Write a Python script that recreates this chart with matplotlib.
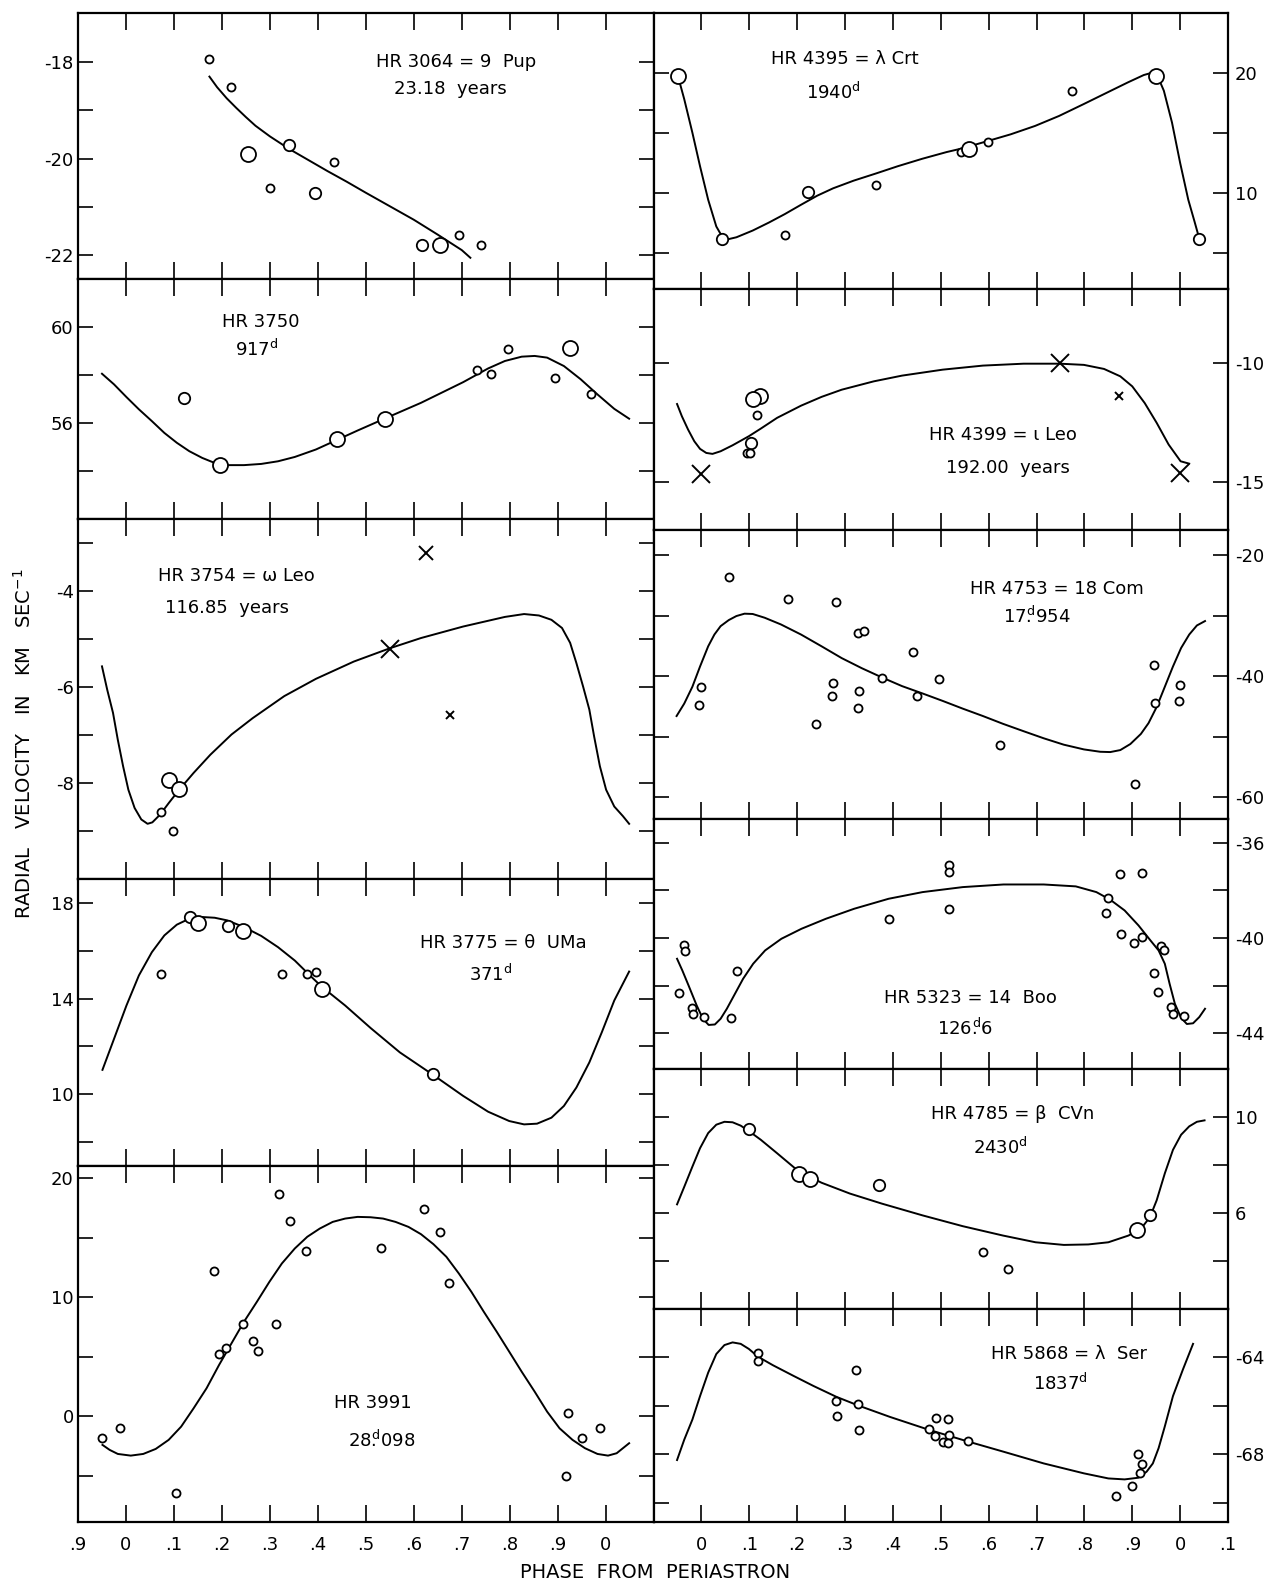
import matplotlib
matplotlib.use('Agg')
from matplotlib import pyplot as plt

# HR 3064 = 9 Pup
l1_phase = [0.174, 0.218, 0.255, 0.339, 0.300, 0.395, 0.433, 0.618, 0.655, 0.694, 0.740]
l1_vel = [-17.94, -18.51, -19.90, -19.72, -20.62, -20.71, -20.07, -21.79, -21.80, -21.58, -21.79]
l1_size = ['s', 's', 'l', 'm', 's', 'm', 's', 'm', 'l', 's', 's']
l1_curve_phase = [0.174, 0.19, 0.21, 0.23, 0.25, 0.27, 0.30, 0.34, 0.38, 0.42, 0.46, 0.50,
                  0.55, 0.60, 0.65, 0.70, 0.718]
l1_curve_vel = [-18.30, -18.52, -18.75, -18.95, -19.14, -19.32, -19.54, -19.80, -20.03, -20.26,
                -20.48, -20.71, -20.99, -21.27, -21.58, -21.90, -22.06]

# HR 3750
l2_phase = [0.122, 0.195, 0.439, 0.540, 0.732, 0.761, 0.796, 0.925, 0.895, 0.969]
l2_vel = [57.03, 54.24, 55.31, 56.14, 58.21, 58.04, 59.06, 59.13, 57.88, 57.18]
l2_size = ['m', 'l', 'l', 'l', 's', 's', 's', 'l', 's', 's']
l2_curve_phase = [-0.050, -0.025, 0.001, 0.027, 0.054, 0.080, 0.106, 0.132, 0.159, 0.185, 0.211,
                  0.246, 0.282, 0.317, 0.352, 0.396, 0.439, 0.483, 0.540, 0.615, 0.703, 0.755,
                  0.790, 0.825, 0.852, 0.878, 0.913, 0.948, 0.983, 1.018, 1.049]
l2_curve_vel = [58.04, 57.60, 57.07, 56.56, 56.07, 55.58, 55.17, 54.82, 54.54, 54.33, 54.24,
                54.24, 54.29, 54.40, 54.58, 54.89, 55.28, 55.68, 56.18, 56.83, 57.69, 58.26,
                58.57, 58.75, 58.78, 58.71, 58.36, 57.81, 57.18, 56.58, 56.17]

# HR 3754 = omega Leo
l3_phase = [0.090, 0.111, 0.074, 0.098]
l3_vel = [-7.93, -8.13, -8.61, -9.01]
l3_size = ['l', 'l', 's', 's']
l3_x_phase = [0.551, 0.626, 0.675]
l3_x_vel = [-5.21, -3.21, -6.58]
l3_x_size = ['l', 'm', 's']
l3_curve_phase = [-0.050, -0.039, -0.027, -0.017, -0.006, 0.005, 0.018, 0.032, 0.045, 0.055,
                  0.071, 0.089, 0.111, 0.141, 0.176, 0.220, 0.264, 0.330, 0.396, 0.475, 0.551,
                  0.615, 0.703, 0.790, 0.830, 0.861, 0.887, 0.909, 0.926, 0.939, 0.953, 0.966,
                  0.976, 0.988, 1.001, 1.018, 1.036, 1.049]
l3_curve_vel = [-5.57, -6.06, -6.54, -7.10, -7.65, -8.14, -8.52, -8.76, -8.85, -8.82,
                -8.66, -8.42, -8.14, -7.79, -7.41, -6.99, -6.65, -6.19, -5.83, -5.47, -5.19,
                -4.98, -4.74, -4.54, -4.48, -4.51, -4.60, -4.77, -5.08, -5.50, -5.99, -6.47,
                -7.03, -7.65, -8.14, -8.49, -8.69, -8.85]

# HR 3775 = theta UMa
l4_phase = [0.072, 0.133, 0.150, 0.212, 0.245, 0.325, 0.378, 0.397, 0.408, 0.641]
l4_vel = [15.03, 17.41, 17.16, 17.02, 16.83, 15.03, 15.03, 15.13, 14.38, 10.84]
l4_size = ['s', 'm', 'l', 'm', 'l', 's', 's', 's', 'l', 'm']
l4_curve_phase = [-0.049, -0.025, 0.001, 0.027, 0.054, 0.080, 0.106, 0.132, 0.159, 0.185, 0.211,
                  0.246, 0.282, 0.317, 0.352, 0.387, 0.408, 0.457, 0.510, 0.571, 0.641, 0.703,
                  0.755, 0.799, 0.830, 0.857, 0.887, 0.913, 0.939, 0.966, 0.992, 1.018, 1.049]
l4_curve_vel = [11.02, 12.31, 13.71, 14.97, 15.94, 16.64, 17.09, 17.34, 17.41, 17.38, 17.27,
                16.99, 16.62, 16.15, 15.59, 14.90, 14.50, 13.71, 12.77, 11.75, 10.80, 9.93,
                9.27, 8.88, 8.74, 8.77, 9.02, 9.51, 10.28, 11.33, 12.59, 13.92, 15.13]

# HR 3991
l5_phase = [-0.049, -0.013, 0.104, 0.184, 0.193, 0.209, 0.245, 0.264, 0.275, 0.313, 0.320,
            0.341, 0.375, 0.532, 0.621, 0.654, 0.674, 0.918, 0.922, 0.951, 0.988]
l5_vel = [-1.79, -1.01, -6.40, 12.23, 5.25, 5.75, 7.71, 6.34, 5.45, 7.74, 18.69,
          16.40, 13.83, 14.08, 17.43, 15.45, 11.17, -5.00, 0.25, -1.79, -0.98]
l5_curve_phase = [-0.049, -0.034, -0.017, 0.010, 0.036, 0.062, 0.089, 0.115, 0.141, 0.168, 0.194,
                  0.220, 0.246, 0.273, 0.299, 0.325, 0.352, 0.378, 0.404, 0.431, 0.457, 0.483,
                  0.510, 0.536, 0.562, 0.589, 0.615, 0.641, 0.668, 0.694, 0.720, 0.746, 0.773,
                  0.799, 0.825, 0.852, 0.878, 0.904, 0.931, 0.957, 0.983, 1.005, 1.023, 1.036,
                  1.049]
l5_curve_vel = [-2.40, -2.82, -3.16, -3.30, -3.16, -2.74, -1.98, -0.87, 0.67, 2.35, 4.30,
                6.12, 7.93, 9.61, 11.28, 12.82, 14.08, 15.06, 15.75, 16.31, 16.59, 16.73,
                16.70, 16.59, 16.31, 15.89, 15.28, 14.44, 13.38, 11.98, 10.45, 8.77, 7.09,
                5.42, 3.74, 2.07, 0.39, -1.01, -1.98, -2.68, -3.16, -3.30, -3.10, -2.68,
                -2.26]

# HR 4395 = lambda Crt
r1_phase = [-0.049, 0.043, 0.174, 0.223, 0.364, 0.543, 0.558, 0.598, 0.775, 0.949, 1.040]
r1_vel = [19.72, 6.20, 6.51, 10.08, 10.70, 13.44, 13.63, 14.25, 18.52, 19.72, 6.20]
r1_size = ['l', 'm', 's', 'm', 's', 's', 'l', 's', 's', 'l', 'm']
r1_curve_phase = [-0.049, -0.036, -0.019, -0.003, 0.014, 0.031, 0.044, 0.056, 0.073, 0.107,
                  0.141, 0.174, 0.208, 0.242, 0.275, 0.318, 0.364, 0.410, 0.461, 0.512, 0.545,
                  0.598, 0.646, 0.697, 0.747, 0.798, 0.848, 0.891, 0.924, 0.939, 0.954, 0.966,
                  0.983, 1.000, 1.017, 1.030, 1.040]
r1_curve_vel = [19.72, 17.82, 15.03, 12.23, 9.44, 7.21, 6.31, 6.15, 6.31, 6.87,
                7.54, 8.24, 9.02, 9.78, 10.39, 11.03, 11.62, 12.23, 12.85, 13.41, 13.72,
                14.33, 14.89, 15.59, 16.42, 17.40, 18.38, 19.22, 19.83, 20.00, 19.64, 18.52,
                15.87, 12.51, 9.44, 7.63, 6.20]

# HR 4399 = iota Leo
r2_phase = [0.122, 0.107, 0.117, 0.104, 0.095, 0.102]
r2_vel = [-11.40, -11.51, -12.18, -13.35, -13.78, -13.78]
r2_size = ['l', 'l', 's', 'm', 's', 's']
r2_x_phase = [0.000, 0.750, 0.872, 1.000]
r2_x_vel = [-14.64, -10.00, -11.37, -14.61]
r2_x_size = ['l', 'l', 's', 'l']
r2_curve_phase = [-0.051, -0.041, -0.028, -0.015, -0.003, 0.010, 0.023, 0.040, 0.065, 0.099,
                  0.124, 0.158, 0.208, 0.251, 0.293, 0.360, 0.419, 0.504, 0.588, 0.673, 0.749,
                  0.799, 0.841, 0.875, 0.900, 0.926, 0.951, 0.976, 1.001, 1.019]
r2_curve_vel = [-11.72, -12.23, -12.79, -13.28, -13.60, -13.77, -13.81, -13.70, -13.45, -13.07,
                -12.75, -12.30, -11.79, -11.42, -11.12, -10.77, -10.53, -10.28, -10.11, -10.03,
                -10.03, -10.08, -10.25, -10.56, -10.98, -11.68, -12.51, -13.42, -14.12, -14.22]

# HR 4753 = 18 Com
r3_phase = [-0.001, -0.005, 0.057, 0.180, 0.282, 0.327, 0.340, 0.274, 0.273, 0.329, 0.327,
            0.240, 0.378, 0.441, 0.450, 0.497, 0.624, 0.905, 0.945, 0.947, 0.998, 1.000]
r3_vel = [-41.84, -44.79, -23.62, -27.13, -27.69, -32.81, -32.53, -41.17, -43.23, -42.40, -45.18,
          -47.86, -40.22, -35.99, -43.23, -40.45, -51.42, -57.88, -38.16, -44.35, -44.12, -41.45]
r3_curve_phase = [-0.052, -0.036, -0.019, -0.003, 0.014, 0.027, 0.040, 0.057, 0.073, 0.090,
                  0.107, 0.132, 0.166, 0.208, 0.251, 0.293, 0.335, 0.378, 0.419, 0.462, 0.504,
                  0.546, 0.588, 0.630, 0.673, 0.715, 0.757, 0.799, 0.833, 0.854, 0.875, 0.896,
                  0.918, 0.934, 0.951, 0.968, 0.985, 1.002, 1.019, 1.035, 1.052]
r3_curve_vel = [-46.57, -44.51, -41.73, -38.38, -35.04, -33.09, -31.70, -30.70, -30.03, -29.64,
                -29.69, -30.31, -31.42, -33.09, -35.04, -36.99, -38.66, -40.22, -41.62, -42.84,
                -44.07, -45.35, -46.57, -47.86, -49.08, -50.25, -51.31, -52.09, -52.48, -52.53,
                -52.20, -51.20, -49.53, -47.74, -45.07, -41.73, -38.38, -35.32, -33.09, -31.59,
                -30.86]

# HR 5323 = 14 Boo
r4_phase = [-0.046, -0.037, -0.034, -0.019, -0.017, 0.005, 0.062, 0.074, 0.391, 0.518, 0.518,
            0.518, 0.846, 0.849, 0.874, 0.920, 0.876, 0.904, 0.921, 0.961, 0.966, 0.946, 0.954,
            0.981, 0.985, 1.008]
r4_vel = [-42.30, -40.31, -40.54, -42.93, -43.18, -43.30, -43.35, -41.39, -39.19, -36.95, -37.23,
          -38.76, -38.94, -38.31, -37.30, -37.26, -39.85, -40.20, -39.94, -40.34, -40.50, -41.48,
          -42.25, -42.88, -43.20, -43.28]
r4_curve_phase = [-0.051, -0.040, -0.027, -0.010, 0.003, 0.015, 0.028, 0.040, 0.053, 0.070,
                  0.087, 0.108, 0.133, 0.167, 0.209, 0.260, 0.319, 0.391, 0.462, 0.546, 0.631,
                  0.715, 0.782, 0.825, 0.854, 0.884, 0.913, 0.938, 0.955, 0.968, 0.978, 0.989,
                  1.002, 1.014, 1.027, 1.040, 1.052]
r4_curve_vel = [-40.87, -41.36, -41.99, -42.83, -43.39, -43.65, -43.63, -43.39, -42.97, -42.34,
                -41.71, -41.08, -40.52, -40.03, -39.61, -39.19, -38.77, -38.35, -38.07, -37.86,
                -37.75, -37.75, -37.83, -38.07, -38.39, -38.84, -39.47, -40.10, -40.52, -41.08,
                -41.92, -42.76, -43.35, -43.61, -43.58, -43.32, -42.97]

# HR 4785 = beta CVn
r5_phase = [0.100, 0.204, 0.227, 0.370, 0.588, 0.641, 0.910, 0.937]
r5_vel = [9.50, 7.62, 7.40, 7.16, 4.36, 3.65, 5.31, 5.90]
r5_size = ['m', 'l', 'l', 'm', 's', 's', 'l', 'm']
r5_curve_phase = [-0.051, -0.036, -0.019, -0.003, 0.014, 0.031, 0.048, 0.065, 0.082, 0.100,
                  0.124, 0.158, 0.204, 0.251, 0.310, 0.377, 0.462, 0.546, 0.630, 0.698, 0.757,
                  0.808, 0.850, 0.892, 0.918, 0.937, 0.951, 0.968, 0.985, 1.002, 1.019, 1.035,
                  1.051]
r5_curve_vel = [6.36, 7.09, 7.93, 8.70, 9.33, 9.68, 9.80, 9.78, 9.64, 9.40,
                9.05, 8.49, 7.72, 7.26, 6.81, 6.39, 5.90, 5.45, 5.06, 4.78, 4.67,
                4.69, 4.78, 5.06, 5.34, 5.83, 6.53, 7.65, 8.63, 9.26, 9.61, 9.80,
                9.86]

# HR 5868 = lambda Ser
r6_phase = [0.118, 0.118, 0.323, 0.282, 0.328, 0.284, 0.330, 0.475, 0.490, 0.516, 0.488,
            0.517, 0.504, 0.515, 0.556, 0.867, 0.899, 0.913, 0.920, 0.917]
r6_vel = [-63.82, -64.14, -64.51, -65.81, -65.94, -66.43, -67.01, -66.96, -66.51, -66.53, -67.26,
          -67.19, -67.49, -67.54, -67.46, -69.72, -69.31, -68.00, -68.40, -68.79]
r6_curve_phase = [-0.051, -0.036, -0.019, -0.003, 0.014, 0.031, 0.048, 0.065, 0.082, 0.099,
                  0.118, 0.149, 0.192, 0.234, 0.282, 0.328, 0.394, 0.475, 0.556, 0.630, 0.715,
                  0.799, 0.850, 0.884, 0.913, 0.930, 0.943, 0.955, 0.968, 0.985, 1.006, 1.027]
r6_curve_vel = [-68.24, -67.40, -66.57, -65.60, -64.63, -63.86, -63.49, -63.38, -63.44, -63.65,
                -63.97, -64.32, -64.76, -65.18, -65.63, -65.99, -66.46, -66.99, -67.47, -67.89,
                -68.38, -68.79, -69.00, -69.04, -68.97, -68.72, -68.38, -67.75, -66.85, -65.60,
                -64.49, -63.44]

phase_ticks = [-0.1, 0.0, 0.1, 0.2, 0.3, 0.4, 0.5, 0.6, 0.7, 0.8, 0.9, 1.0, 1.1]
left_xlabels = ['.9', '0', '.1', '.2', '.3', '.4', '.5', '.6', '.7', '.8', '.9', '0', '']
right_xlabels = ['', '0', '.1', '.2', '.3', '.4', '.5', '.6', '.7', '.8', '.9', '0', '.1']

W, H = 1273, 1583
FS = 13
CIRCLE = {'s': 5.8, 'm': 8.2, 'l': 10.8}
CROSS = {'s': 6.0, 'm': 10.0, 'l': 13.0}

fig = plt.figure(figsize=(W / 100, H / 100), dpi=100)


def panel(x0, x1, y0, y1, ylim, yticks, ylabels, side, xlabels=None):
    ax = fig.add_axes([x0 / W, 1 - y1 / H, (x1 - x0) / W, (y1 - y0) / H])
    ax.set_xlim(-0.1, 1.1)
    ax.set_ylim(*ylim)
    ax.set_xticks(phase_ticks)
    ax.set_yticks(yticks)
    ax.set_yticklabels(ylabels)
    if xlabels is not None:
        ax.set_xticklabels(xlabels)
    ax.tick_params(axis='both', direction='in', top=True, bottom=True, left=True, right=True,
                   width=1.2, labelsize=FS)
    ax.tick_params(axis='x', length=12, pad=10, labelbottom=xlabels is not None)
    ax.tick_params(axis='y', length=11, pad=3 if side == 'left' else 5,
                   labelleft=side == 'left', labelright=side == 'right')
    for s in ax.spines.values():
        s.set_linewidth(1.6)
    return ax


def curve(ax, phase, vel):
    ax.plot(phase, vel, color='black', lw=1.4, zorder=2, solid_joinstyle='round')


def circles(ax, phase, vel, size=None):
    if size is None:
        size = ['s'] * len(phase)
    for p, v, s in zip(phase, vel, size):
        ax.plot(p, v, 'o', ms=CIRCLE[s], mfc='white', mec='black', mew=1.3, zorder=3)


def crosses(ax, phase, vel, size):
    for p, v, s in zip(phase, vel, size):
        ax.plot(p, v, 'x', ms=CROSS[s], mec='black', mew=1.4, zorder=3)


def label(ax, x, y, txt):
    ax.text(x, y, txt, fontsize=FS, ha='center', va='center')


LX0, LX1, RX1 = 78, 653.6, 1228

# left column
ax = panel(LX0, LX1, 13, 278.5, (-22.49, -16.98), [-22, -21, -20, -19, -18],
           ['-22', '', '-20', '', '-18'], 'left')
curve(ax, l1_curve_phase, l1_curve_vel)
circles(ax, l1_phase, l1_vel, l1_size)
label(ax, 0.688, -17.99, 'HR 3064 = 9  Pup')
label(ax, 0.676, -18.56, '23.18  years')

ax = panel(LX0, LX1, 278.5, 519, (52.0, 62.0), [54, 56, 58, 60], ['', '56', '', '60'], 'left')
curve(ax, l2_curve_phase, l2_curve_vel)
circles(ax, l2_phase, l2_vel, l2_size)
label(ax, 0.280, 60.19, 'HR 3750')
label(ax, 0.273, 59.06, r'917$^{\mathrm{d}}$')

ax = panel(LX0, LX1, 519, 879, (-10.0, -2.5), [-9, -8, -7, -6, -5, -4, -3],
           ['', '-8', '', '-6', '', '-4', ''], 'left')
curve(ax, l3_curve_phase, l3_curve_vel)
circles(ax, l3_phase, l3_vel, l3_size)
crosses(ax, l3_x_phase, l3_x_vel, l3_x_size)
label(ax, 0.231, -3.69, 'HR 3754 = ω Leo')
label(ax, 0.211, -4.35, '116.85  years')

ax = panel(LX0, LX1, 879, 1166, (7.0, 19.0), [8, 10, 12, 14, 16, 18],
           ['', '10', '', '14', '', '18'], 'left')
curve(ax, l4_curve_phase, l4_curve_vel)
circles(ax, l4_phase, l4_vel, l4_size)
label(ax, 0.786, 16.34, 'HR 3775 = θ  UMa')
label(ax, 0.760, 15.03, r'371$^{\mathrm{d}}$')

ax = panel(LX0, LX1, 1166, 1522, (-8.87, 21.0), [-5, 0, 5, 10, 15, 20],
           ['', '0', '', '10', '', '20'], 'left', left_xlabels)
curve(ax, l5_curve_phase, l5_curve_vel)
circles(ax, l5_phase, l5_vel)
label(ax, 0.514, 1.09, 'HR 3991')
label(ax, 0.532, -2.04, r'28$\overset{\mathrm{d}}{.}$098')

# right column
ax = panel(LX1, RX1, 13, 289, (2.0, 25.0), [5, 10, 15, 20], ['', '10', '', '20'], 'right')
curve(ax, r1_curve_phase, r1_curve_vel)
circles(ax, r1_phase, r1_vel, r1_size)
label(ax, 0.299, 21.17, 'HR 4395 = λ Crt')
label(ax, 0.275, 18.38, r'1940$^{\mathrm{d}}$')

ax = panel(LX1, RX1, 289, 530, (-17.0, -6.9), [-15, -10], ['-15', '-10'], 'right')
curve(ax, r2_curve_phase, r2_curve_vel)
circles(ax, r2_phase, r2_vel, r2_size)
crosses(ax, r2_x_phase, r2_x_vel, r2_x_size)
label(ax, 0.630, -13.0, 'HR 4399 = ι Leo')
label(ax, 0.641, -14.4, '192.00  years')

ax = panel(LX1, RX1, 530, 819, (-63.6, -15.8), [-60, -50, -40, -30, -20],
           ['-60', '', '-40', '', '-20'], 'right')
curve(ax, r3_curve_phase, r3_curve_vel)
circles(ax, r3_phase, r3_vel)
label(ax, 0.743, -25.57, 'HR 4753 = 18 Com')
label(ax, 0.700, -30.14, r'17$\overset{\mathrm{d}}{.}$954')

ax = panel(LX1, RX1, 819, 1069, (-45.5, -35.0), [-44, -42, -40, -38, -36],
           ['-44', '', '-40', '', '-36'], 'right')
curve(ax, r4_curve_phase, r4_curve_vel)
circles(ax, r4_phase, r4_vel)
label(ax, 0.562, -42.51, 'HR 5323 = 14  Boo')
label(ax, 0.551, -43.82, r'126$\overset{\mathrm{d}}{.}$6')

ax = panel(LX1, RX1, 1069, 1309, (2.0, 12.0), [4, 6, 8, 10], ['', '6', '', '10'], 'right')
curve(ax, r5_curve_phase, r5_curve_vel)
circles(ax, r5_phase, r5_vel, r5_size)
label(ax, 0.651, 10.14, 'HR 4785 = β  CVn')
label(ax, 0.624, 8.74, r'2430$^{\mathrm{d}}$')

ax = panel(LX1, RX1, 1309, 1522, (-70.8, -62.0), [-70, -68, -66, -64],
           ['', '-68', '', '-64'], 'right', right_xlabels)
curve(ax, r6_curve_phase, r6_curve_vel)
circles(ax, r6_phase, r6_vel)
label(ax, 0.768, -63.86, 'HR 5868 = λ  Ser')
label(ax, 0.749, -65.07, r'1837$^{\mathrm{d}}$')

fig.text(24 / W, 1 - 744 / H, r'RADIAL   VELOCITY   IN   KM   SEC$^{-1}$', rotation=90,
         fontsize=14, ha='center', va='center')
fig.text(655 / W, 1 - 1572 / H, 'PHASE  FROM  PERIASTRON', fontsize=14, ha='center', va='center')

fig.savefig('out.png', dpi=100)
